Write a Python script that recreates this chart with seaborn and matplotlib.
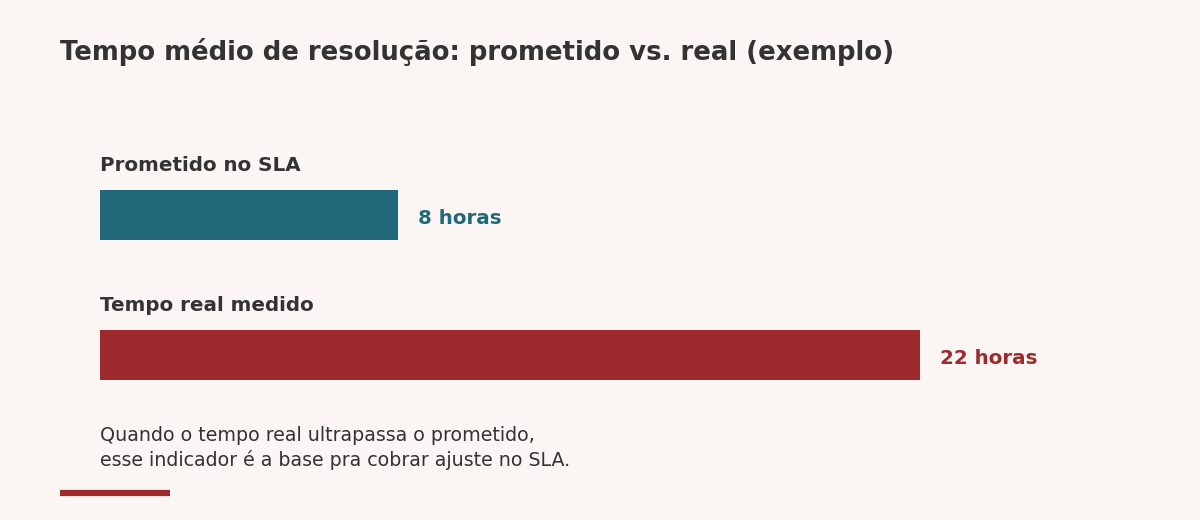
import pandas as pd
import numpy as np
import matplotlib.pyplot as plt
import seaborn as sns

## data
categorias = ["Prometido no SLA", "Tempo real medido"]
horas = [8, 22]
rotulos = ["8 horas", "22 horas"]
cores = ["#21687a", "#9e2a2d"]

titulo = "Tempo médio de resolução: prometido vs. real (exemplo)"
nota = ["Quando o tempo real ultrapassa o prometido,",
        "esse indicador é a base pra cobrar ajuste no SLA."]

fundo = "#fbf6f3"
texto = "#333333"

sns.set_theme(style="white")
plt.rcParams['font.family'] = ['DejaVu Sans']

df = pd.DataFrame({"categoria": categorias, "horas": horas})

fig = plt.figure(figsize=(12, 5.2), dpi=100, facecolor=fundo)
## axes spans x 100..920 px and y 145..425 px
ax = fig.add_axes([100/1200, 1 - 425/520, 820/1200, 280/520])
ax.set_facecolor(fundo)

bar_h = 50/140
sns.barplot(data=df, x="horas", y="categoria", hue="categoria", palette=cores,
            orient="h", width=bar_h, legend=False, ax=ax, saturation=1, linewidth=0)

ax.set_xlim(0, max(horas))
ax.set_ylim(1.5, -0.5)
ax.set_axis_off()

for i, (cat, val, rot, cor) in enumerate(zip(categorias, horas, rotulos, cores)):
    ## category label above the bar
    ax.text(0, i - bar_h/2 - 19/140, cat, ha="left", va="baseline",
            fontsize=14.3, fontweight="bold", color=texto)
    ## value label right of the bar
    ax.annotate(rot, xy=(val, i + 9/140), xytext=(14.4, 0), textcoords="offset points",
                ha="left", va="baseline", fontsize=14.3, fontweight="bold", color=cor)

fig.text(60/1200, 1 - 52/520, titulo, ha="left", va="center",
         fontsize=18.7, fontweight="bold", color=texto)

for k, linha in enumerate(nota):
    fig.text(100/1200, 1 - (441 + 25*k)/520, linha, ha="left", va="baseline",
             fontsize=13.7, color=texto)

## accent line at the bottom
fig.add_artist(plt.Line2D([60/1200, 170/1200], [1 - 493/520, 1 - 493/520],
                          color=cores[1], linewidth=4.5, solid_capstyle="butt"))

fig.savefig("out.png", dpi=100, facecolor=fundo)
